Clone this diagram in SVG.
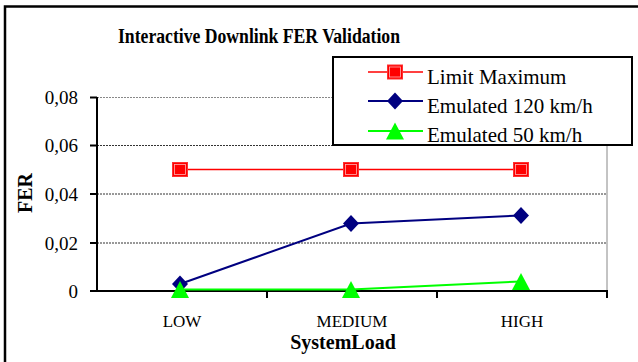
<svg xmlns="http://www.w3.org/2000/svg" width="638" height="362" viewBox="0 0 638 362">
  <style>
    text { font-family: "Liberation Serif", "Times New Roman", serif; fill: #000; }
    .title { font-size: 20px; font-weight: bold; }
    .axt { font-size: 20px; font-weight: bold; }
    .ytick { font-size: 19px; text-anchor: end; }
    .xtick { font-size: 17px; text-anchor: middle; }
    .leg { font-size: 21px; }
    .grid { stroke: #333; stroke-width: 1; stroke-dasharray: 2 1; fill: none; }
    .axis { stroke: #000; stroke-width: 2; fill: none; }
    .s-red { stroke: #FF0000; stroke-width: 1.5; fill: none; }
    .s-blue { stroke: #000080; stroke-width: 2; fill: none; }
    .s-green { stroke: #00FF00; stroke-width: 2; fill: none; }
  </style>
  <defs>
    <g id="sq">
      <rect x="-7.5" y="-7" width="15" height="14" fill="#FF0000" stroke="#FF3030" stroke-width="1"/>
      <rect x="-5.5" y="-5" width="11" height="10" fill="none" stroke="#FFB0B0" stroke-width="0.8"/>
    </g>
    <path id="dm" d="M0,-8.5 L8,0 L0,8.5 L-8,0 Z" fill="#000080"/>
    <path id="tr" d="M0,-8.5 L9,8.5 L-9,8.5 Z" fill="#00FF00"/>
  </defs>

  <rect width="638" height="362" fill="#fff"/>
  <!-- chart frame (right and bottom edges fall outside the canvas) -->
  <rect x="5" y="6.5" width="640" height="370" fill="none" stroke="#000" stroke-width="2.5"/>

  <text class="title" x="259" y="43" text-anchor="middle" textLength="282" lengthAdjust="spacingAndGlyphs">Interactive Downlink FER Validation</text>

  <!-- plot area -->
  <g id="plot-area">
    <line class="grid" x1="97" y1="97.5" x2="607" y2="97.5" style="stroke:#888"/>
    <line class="grid" x1="97" y1="145.5" x2="607" y2="145.5"/>
    <line class="grid" x1="97" y1="194" x2="607" y2="194"/>
    <line class="grid" x1="97" y1="243" x2="607" y2="243"/>
    <line x1="607" y1="97" x2="607" y2="291" stroke="#888" stroke-width="1"/>
    <!-- value axis -->
    <path class="axis" d="M97,97 V292 M90,97.5 H97 M90,145.5 H97 M90,194 H97 M90,243 H97 M90,291 H97"/>
    <!-- category axis -->
    <path class="axis" d="M90,291 H608 M267,291 V298 M437,291 V298 M607,291 V298"/>
  </g>

  <g id="y-labels">
    <text class="ytick" x="78" y="104">0,08</text>
    <text class="ytick" x="78" y="152">0,06</text>
    <text class="ytick" x="78" y="201">0,04</text>
    <text class="ytick" x="78" y="250">0,02</text>
    <text class="ytick" x="78" y="298">0</text>
  </g>
  <text class="axt" transform="translate(32,193) rotate(-90)" text-anchor="middle">FER</text>

  <g id="x-labels">
    <text class="xtick" x="182" y="327">LOW</text>
    <text class="xtick" x="352" y="327">MEDIUM</text>
    <text class="xtick" x="522" y="327">HIGH</text>
  </g>
  <text class="axt" x="343" y="349" text-anchor="middle">SystemLoad</text>

  <!-- data series -->
  <g id="connectors">
    <polyline class="s-red" points="180,169.5 351,169.5 521,169.5"/>
    <polyline class="s-blue" points="180,284 351,223.5 521,215.5"/>
    <polyline class="s-green" points="180,289.5 351,289.5 521,281.5"/>
  </g>
  <g id="series-limit">
    <use href="#sq" x="180" y="169.5"/>
    <use href="#sq" x="351" y="169.5"/>
    <use href="#sq" x="521" y="169.5"/>
  </g>
  <g id="series-120">
    <use href="#dm" x="180" y="284"/>
    <use href="#dm" x="351" y="223.5"/>
    <use href="#dm" x="521" y="215.5"/>
  </g>
  <g id="series-50">
    <use href="#tr" x="180" y="289.5"/>
    <use href="#tr" x="351" y="289.5"/>
    <use href="#tr" x="521" y="281.5"/>
  </g>

  <!-- legend -->
  <g id="legend">
    <rect x="333" y="57" width="299" height="88" fill="#fff" stroke="#000" stroke-width="2"/>
    <line class="s-red" x1="368" y1="72" x2="423" y2="72"/>
    <use href="#sq" x="395" y="72"/>
    <text class="leg" x="427" y="84">Limit Maximum</text>
    <line class="s-blue" x1="368" y1="101" x2="423" y2="101"/>
    <use href="#dm" x="395" y="101"/>
    <text class="leg" x="427" y="113">Emulated 120 km/h</text>
    <line class="s-green" x1="368" y1="131" x2="423" y2="131"/>
    <use href="#tr" x="395" y="131"/>
    <text class="leg" x="427" y="142">Emulated 50 km/h</text>
  </g>
</svg>
